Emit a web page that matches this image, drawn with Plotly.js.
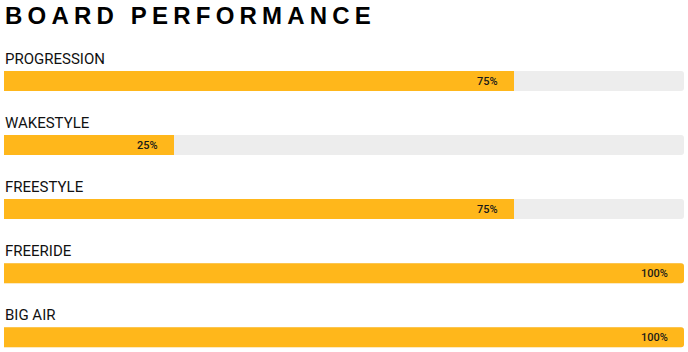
<!DOCTYPE html>
<html>
<head>
<meta charset="utf-8">
<script src="https://cdn.plot.ly/plotly-3.0.1.min.js"></script>
<style>
html,body{margin:0;padding:0;background:#fff;}
#chart{width:688px;height:352px;}
</style>
</head>
<body>
<div id="chart"></div>
<script>
var categories = ["PROGRESSION", "WAKESTYLE", "FREESTYLE", "FREERIDE", "BIG AIR"];
var values = [75, 25, 75, 100, 100];
var maxValues = [100, 100, 100, 100, 100];
var valueLabels = ["75%", "25%", "75%", "100%", "100%"];

var pos = categories.map(function(_, i){ return i; });

var bg = {
  type: 'bar', orientation: 'h', x: maxValues, y: pos, width: 0.3125,
  marker: {color: '#ededed', cornerradius: 3}, hoverinfo: 'skip', showlegend: false
};
var fg = {
  type: 'bar', orientation: 'h', x: values, y: pos, width: 0.3125,
  marker: {color: '#ffb71b', cornerradius: 3}, hoverinfo: 'skip', showlegend: false
};

var annotations = [];
categories.forEach(function(c, i){
  annotations.push({
    x: 0, y: i, xref: 'x', yref: 'y', text: c, showarrow: false,
    xanchor: 'left', yanchor: 'middle', yshift: 22, xshift: -1,
    font: {family: 'Roboto, Arial, sans-serif', size: 15, color: '#111'}
  });
  annotations.push({
    x: values[i], y: i, xref: 'x', yref: 'y', text: valueLabels[i], showarrow: false,
    xanchor: 'right', yanchor: 'middle', xshift: -14,
    font: {family: 'Roboto, Arial, sans-serif', size: 11, color: '#1a1a1a', weight: 500}
  });
});

var layout = {
  width: 688, height: 352,
  margin: {l: 4, r: 4, t: 49, b: 2},
  paper_bgcolor: '#fff', plot_bgcolor: '#fff',
  barmode: 'overlay',
  title: {
    text: 'BOARD PERFORMANCE', x: 5/688, xref: 'container', xanchor: 'left',
    y: 1 - 16/352, yref: 'container', yanchor: 'middle',
    font: {family: 'Liberation Sans, Arial, sans-serif', size: 24, color: '#000', weight: 'bold'}
  },
  xaxis: {range: [0, 100], visible: false, fixedrange: true},
  yaxis: {range: [4.2, -0.5], visible: false, fixedrange: true},
  annotations: annotations
};

Plotly.newPlot('chart', [bg, fg], layout, {displayModeBar: false, staticPlot: true}).then(function(){
  var t = document.querySelector('.gtitle');
  if (t) { t.style.letterSpacing = '5.2px'; }
});
</script>
</body>
</html>
